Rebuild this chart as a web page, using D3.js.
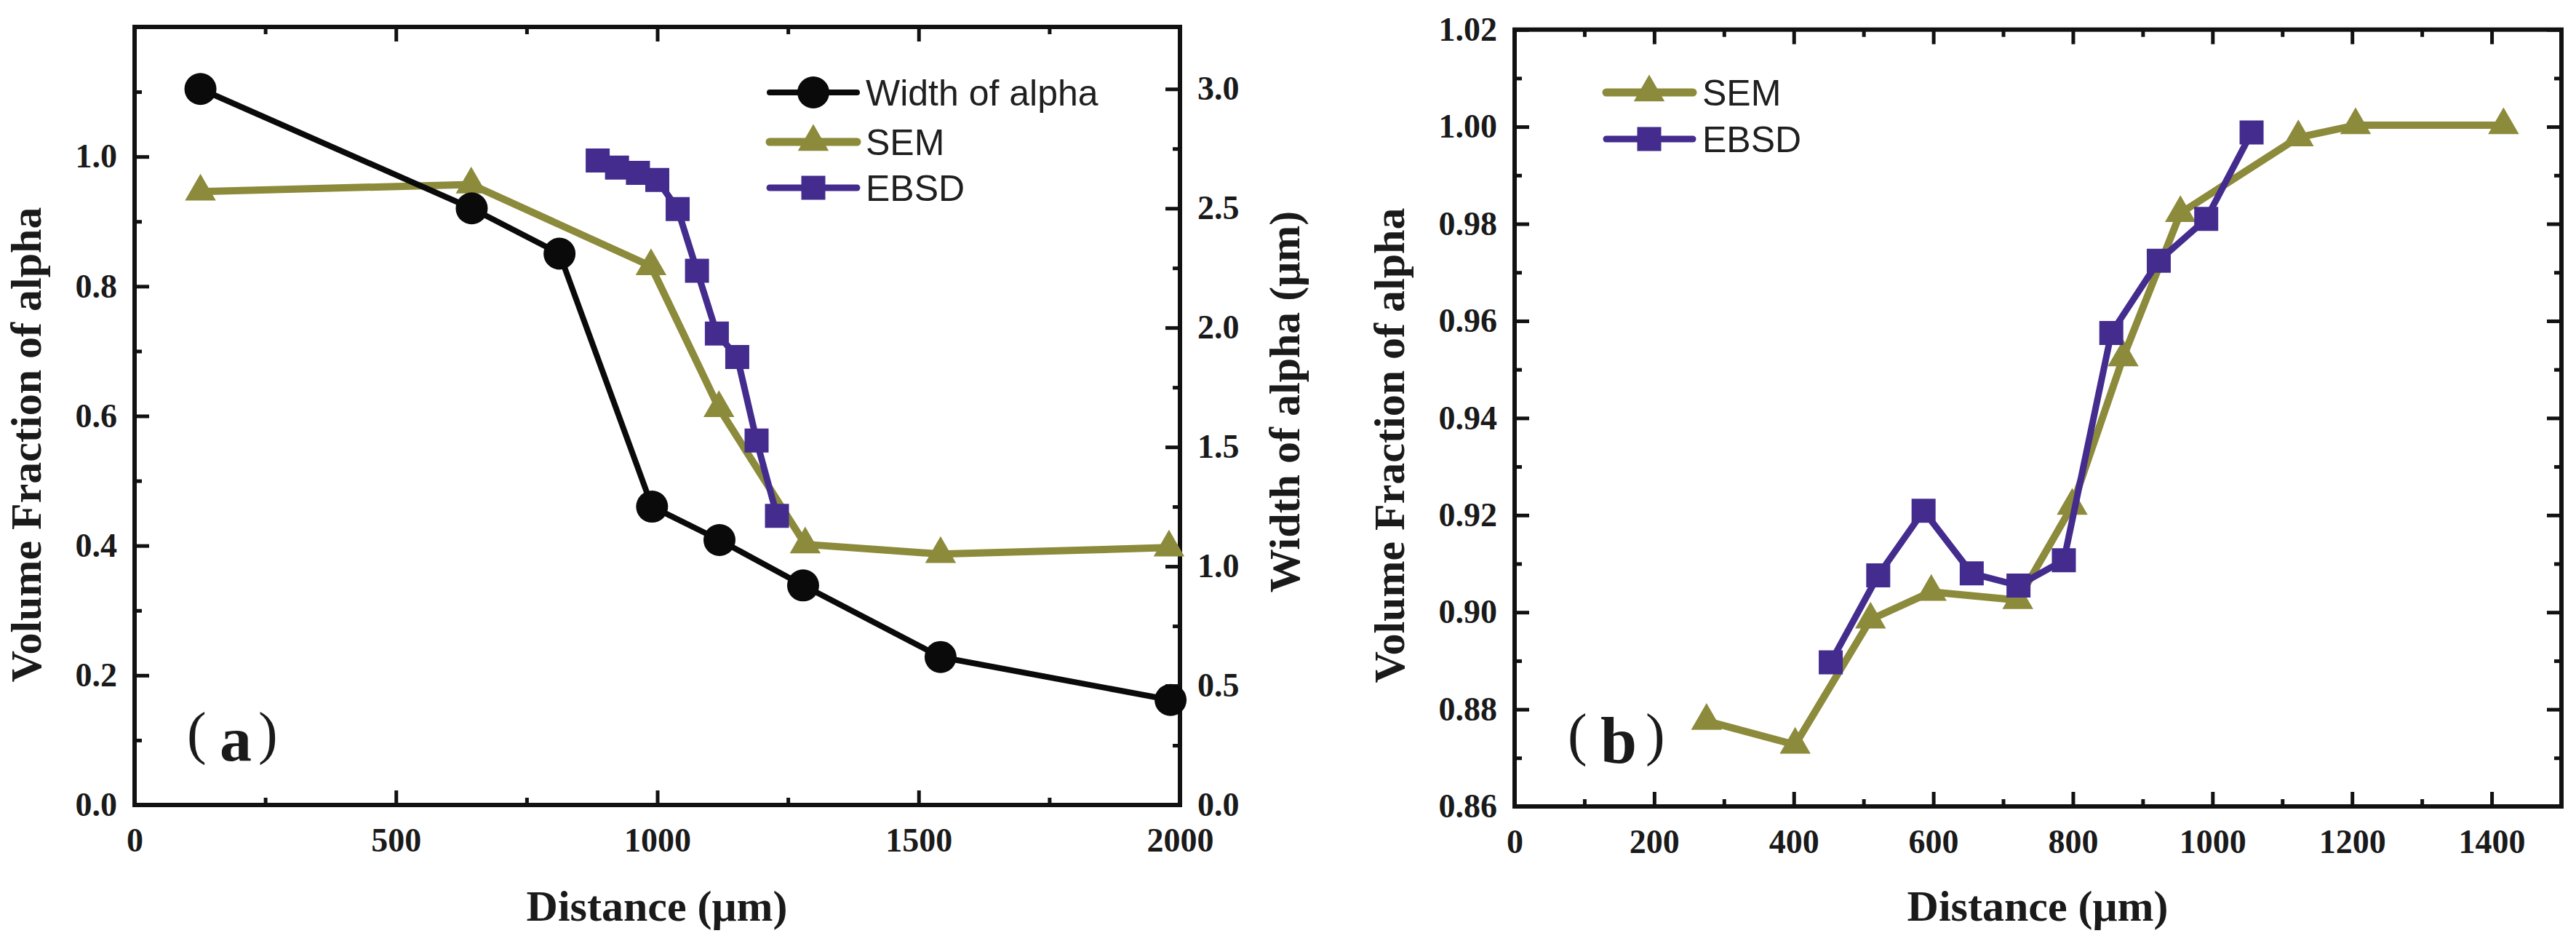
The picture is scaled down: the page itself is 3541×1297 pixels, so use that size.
<!DOCTYPE html>
<html>
<head>
<meta charset="utf-8">
<script src="https://cdn.jsdelivr.net/npm/d3@7/dist/d3.min.js"></script>
<style>
  html, body { margin: 0; padding: 0; background: #fff; }
  svg { display: block; }
</style>
</head>
<body>
<svg id="chart" width="3541" height="1297"></svg>
<script>
// ---------- Data: panel (a) ----------
const distAWidth = [126, 645, 813, 990, 1119, 1279, 1542, 1982];
const widthAlpha = [3.00, 2.50, 2.31, 1.25, 1.11, 0.92, 0.62, 0.44];
const distASEM = [126, 644, 988, 1118, 1283, 1542, 1979];
const semA = [0.946, 0.957, 0.831, 0.612, 0.402, 0.387, 0.397];
const distAEBSD = [886, 923, 963, 1000, 1039, 1076, 1114, 1153, 1190, 1229];
const ebsdA = [0.994, 0.983, 0.975, 0.964, 0.919, 0.824, 0.727, 0.691, 0.562, 0.446];

// ---------- Data: panel (b) ----------
const distBSEM = [275, 402, 510, 597, 721, 799, 872, 954, 1123, 1205, 1417];
const semB = [0.8776, 0.8727, 0.8985, 0.9042, 0.9025, 0.9219, 0.9525, 0.9822, 0.9978, 1.0003, 1.0003];
const distBEBSD = [453, 521, 586, 655, 722, 787, 855, 923, 991, 1056];
const ebsdB = [0.8897, 0.9076, 0.9209, 0.9080, 0.9055, 0.9107, 0.9575, 0.9724, 0.9810, 0.9988];

// ---------- Tick values ----------
const xTicksA = [0, 500, 1000, 1500, 2000];
const xMinorA = [250, 750, 1250, 1750];
const yTicksA = [0.0, 0.2, 0.4, 0.6, 0.8, 1.0];
const yMinorA = [0.1, 0.3, 0.5, 0.7, 0.9, 1.1];
const y2TicksA = [0.0, 0.5, 1.0, 1.5, 2.0, 2.5, 3.0];
const y2MinorA = [0.25, 0.75, 1.25, 1.75, 2.25, 2.75];
const xTicksB = [0, 200, 400, 600, 800, 1000, 1200, 1400];
const xMinorB = [100, 300, 500, 700, 900, 1100, 1300];
const yTicksB = [0.86, 0.88, 0.90, 0.92, 0.94, 0.96, 0.98, 1.00, 1.02];
const yMinorB = [0.87, 0.89, 0.91, 0.93, 0.95, 0.97, 0.99, 1.01];

const legendA = ["Width of alpha", "SEM", "EBSD"];
const legendB = ["SEM", "EBSD"];

const COL_BLACK = "#0a0a0a";
const COL_OLIVE = "#8c8a3b";
const COL_PURPLE = "#432c8e";

const svg = d3.select("#chart");
const serif = "'Liberation Serif', 'Times New Roman', serif";
const sans = "'Liberation Sans', Arial, sans-serif";

const symCircle = d3.symbol().type(d3.symbolCircle).size(Math.PI * 22 * 22);
const symTri = d3.symbol().type(d3.symbolTriangle).size(780);
const symSq = d3.symbol().type(d3.symbolSquare).size(33 * 33);

function styleAxis(g, fontSize) {
  g.select(".domain").remove();
  g.selectAll(".tick line").attr("stroke", "#111").attr("stroke-width", 5);
  g.selectAll(".tick text")
    .attr("fill", "#1a1a1a")
    .style("font-family", serif)
    .style("font-weight", "bold")
    .style("font-size", fontSize + "px");
}

function drawSeries(g, x, y, xs, ys, color, width, sym) {
  const pts = xs.map((d, i) => [d, ys[i]]);
  const line = d3.line().x(d => x(d[0])).y(d => y(d[1]));
  g.append("path").datum(pts)
    .attr("d", line).attr("fill", "none")
    .attr("stroke", color).attr("stroke-width", width)
    .attr("stroke-linejoin", "round");
  g.selectAll(null).data(pts).enter().append("path")
    .attr("d", sym)
    .attr("transform", d => `translate(${x(d[0])},${y(d[1])})`)
    .attr("fill", color);
}

function frameAndAxes(x, y, opts) {
  const [x0, x1] = x.range();
  const [yb, yt] = y.range();
  const g = svg.append("g");
  // bottom
  g.append("g").attr("transform", `translate(0,${yb})`)
    .call(d3.axisBottom(x).tickValues(opts.xTicks).tickSize(-20).tickPadding(31).tickFormat(d3.format("d")))
    .call(a => styleAxis(a, 46));
  g.append("g").attr("transform", `translate(0,${yb})`)
    .call(d3.axisBottom(x).tickValues(opts.xMinor).tickSize(-10).tickFormat(""))
    .call(a => styleAxis(a, 46));
  // top
  g.append("g").attr("transform", `translate(0,${yt})`)
    .call(d3.axisTop(x).tickValues(opts.xTicks).tickSize(-20).tickFormat(""))
    .call(a => styleAxis(a, 46));
  g.append("g").attr("transform", `translate(0,${yt})`)
    .call(d3.axisTop(x).tickValues(opts.xMinor).tickSize(-10).tickFormat(""))
    .call(a => styleAxis(a, 46));
  // left
  g.append("g").attr("transform", `translate(${x0},0)`)
    .call(d3.axisLeft(y).tickValues(opts.yTicks).tickSize(-20).tickPadding(24).tickFormat(opts.yFormat))
    .call(a => styleAxis(a, 46));
  g.append("g").attr("transform", `translate(${x0},0)`)
    .call(d3.axisLeft(y).tickValues(opts.yMinor).tickSize(-10).tickFormat(""))
    .call(a => styleAxis(a, 46));
  // right
  if (opts.y2) {
    g.append("g").attr("transform", `translate(${x1},0)`)
      .call(d3.axisRight(opts.y2).tickValues(opts.y2Ticks).tickSize(-20).tickPadding(24).tickFormat(d3.format(".1f")))
      .call(a => styleAxis(a, 46));
    g.append("g").attr("transform", `translate(${x1},0)`)
      .call(d3.axisRight(opts.y2).tickValues(opts.y2Minor).tickSize(-10).tickFormat(""))
      .call(a => styleAxis(a, 46));
  } else {
    g.append("g").attr("transform", `translate(${x1},0)`)
      .call(d3.axisRight(y).tickValues(opts.yTicks).tickSize(-20).tickFormat(""))
      .call(a => styleAxis(a, 46));
    g.append("g").attr("transform", `translate(${x1},0)`)
      .call(d3.axisRight(y).tickValues(opts.yMinor).tickSize(-10).tickFormat(""))
      .call(a => styleAxis(a, 46));
  }
  // frame
  g.append("rect")
    .attr("x", x0).attr("y", yt).attr("width", x1 - x0).attr("height", yb - yt)
    .attr("fill", "none").attr("stroke", "#111").attr("stroke-width", 6);
  return g;
}

function titleText(txt, xPos, yPos, rot) {
  svg.append("text")
    .attr("transform", `translate(${xPos},${yPos}) rotate(${rot})`)
    .attr("text-anchor", "middle")
    .style("font-family", serif).style("font-weight", "bold")
    .style("font-size", "60px").attr("fill", "#1a1a1a")
    .text(txt);
}

function legend(items, x0, x1, xm, ys, xText) {
  const g = svg.append("g");
  items.forEach((it, i) => {
    g.append("line").attr("x1", x0).attr("x2", x1).attr("y1", ys[i]).attr("y2", ys[i])
      .attr("stroke", it.color).attr("stroke-width", it.width).attr("stroke-linecap", "round");
    g.append("path").attr("d", it.sym).attr("transform", `translate(${xm},${ys[i]})`).attr("fill", it.color);
    g.append("text").attr("x", xText).attr("y", ys[i]).attr("dy", "0.36em")
      .style("font-family", sans).style("font-size", "50px").attr("fill", "#1f1f1f")
      .text(it.label);
  });
}

function panelLabel(letter, xl, xLetter, xr, parenBase, letterBase, size) {
  const g = svg.append("g").attr("fill", "#1a1a1a");
  g.append("text").attr("x", xl).attr("y", parenBase)
    .style("font-family", serif).style("font-size", "80px").text("(");
  g.append("text").attr("x", xLetter).attr("y", letterBase)
    .style("font-family", serif).style("font-weight", "bold").style("font-size", size + "px").text(letter);
  g.append("text").attr("x", xr).attr("y", parenBase)
    .style("font-family", serif).style("font-size", "80px").text(")");
}

// ================= Panel (a) =================
const xA = d3.scaleLinear().domain([0, 2000]).range([185, 1622]);
const yA = d3.scaleLinear().domain([0, 1.2]).range([1106, 37]);
const y2A = d3.scaleLinear().domain([0, 3.26]).range([1106, 37]);

frameAndAxes(xA, yA, {
  xTicks: xTicksA, xMinor: xMinorA, yTicks: yTicksA, yMinor: yMinorA,
  yFormat: d3.format(".1f"), y2: y2A, y2Ticks: y2TicksA, y2Minor: y2MinorA
});

const gA = svg.append("g");
drawSeries(gA, xA, yA, distASEM, semA, COL_OLIVE, 10, symTri);
drawSeries(gA, xA, yA, distAEBSD, ebsdA, COL_PURPLE, 9, symSq);
drawSeries(gA, xA, y2A, distAWidth, widthAlpha, COL_BLACK, 8, symCircle);

legend([
  { label: legendA[0], color: COL_BLACK, width: 8, sym: symCircle },
  { label: legendA[1], color: COL_OLIVE, width: 11, sym: symTri },
  { label: legendA[2], color: COL_PURPLE, width: 9, sym: symSq }
], 1058, 1178, 1118, [127, 195, 258], 1190);

titleText("Distance (μm)", 903, 1265, 0);
titleText("Volume Fraction of alpha", 56, 611, -90);
titleText("Width of alpha (μm)", 1786, 552, -90);
panelLabel("a", 257, 302, 355, 1034, 1045, 88);

// ================= Panel (b) =================
const xB = d3.scaleLinear().domain([0, 1500]).range([2082, 3521]);
const yB = d3.scaleLinear().domain([0.86, 1.02]).range([1108, 40.7]);

frameAndAxes(xB, yB, {
  xTicks: xTicksB, xMinor: xMinorB, yTicks: yTicksB, yMinor: yMinorB,
  yFormat: d3.format(".2f")
});

const gB = svg.append("g");
drawSeries(gB, xB, yB, distBSEM, semB, COL_OLIVE, 10, symTri);
drawSeries(gB, xB, yB, distBEBSD, ebsdB, COL_PURPLE, 9, symSq);

legend([
  { label: legendB[0], color: COL_OLIVE, width: 11, sym: symTri },
  { label: legendB[1], color: COL_PURPLE, width: 9, sym: symSq }
], 2208, 2327, 2267, [127, 191], 2340);

titleText("Distance (μm)", 2801, 1265, 0);
titleText("Volume Fraction of alpha", 1930, 612, -90);
panelLabel("b", 2155, 2200, 2262, 1036, 1048, 90);
</script>
</body>
</html>
